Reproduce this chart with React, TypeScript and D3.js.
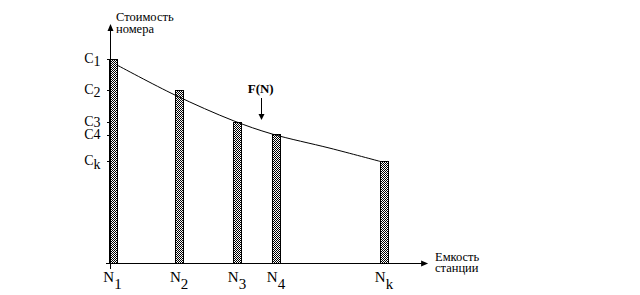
import React, { useEffect } from "react";
import * as d3 from "d3";

// Station capacities (arbitrary units) and per-number cost for each station
const stations = ["1", "2", "3", "4", "k"];
const capacities = [0, 22.2, 41.5, 54.5, 90.5];
const costs = [102, 86.5, 70.7, 64.4, 51];
// cost tick values (C1..Ck) on the vertical axis
const costTicks = [102, 86.5, 70.7, 64, 51];
// F(N) curve
const curveN = [1.5, 20.8, 40.2, 53.2, 72.5, 89.2];
const curveF = [99, 84, 71.2, 64.5, 57.4, 50.8];

const W = 640;
const H = 295;
const FONT = "'Liberation Serif', 'Times New Roman', serif";
const subDrop = [3, 3, 1, 0, 4];

export default function App() {
  useEffect(() => {
    document.body.style.margin = "0";
  }, []);

  const x = d3.scaleLinear().domain([0, 100]).range([112.5, 412.5]);
  const y = d3.scaleLinear().domain([0, 100]).range([263, 63]);

  const ax = Math.round(x(0) - 3) + 0.5; // y axis position
  const ay = Math.round(y(0)) + 0.5; // x axis position
  const yTop = y(119.5);
  const xRight = x(105.2);
  const barW = 8;

  const line = d3
    .line<number>()
    .x((_, i) => x(curveN[i]))
    .y((d) => y(d))
    .curve(d3.curveCatmullRom.alpha(0.5));

  const arrowX = x(49.4);

  return (
    <svg width={W} height={H} style={{ display: "block", background: "#fff" }}>
      <defs>
        <pattern id="dither" width={2} height={2} patternUnits="userSpaceOnUse">
          <rect width={2} height={2} fill="#fff" />
          <rect x={0} y={0} width={1} height={1} fill="#000" />
          <rect x={1} y={1} width={1} height={1} fill="#000" />
        </pattern>
      </defs>

      {/* bars */}
      {capacities.map((n, i) => {
        const bx = Math.round(x(n) - barW / 2) + 0.5;
        const by = Math.round(y(costs[i])) + 0.5;
        return (
          <rect
            key={i}
            x={bx}
            y={by}
            width={barW}
            height={ay - by}
            fill="url(#dither)"
            stroke="#000"
            strokeWidth={1}
            shapeRendering="crispEdges"
          />
        );
      })}

      {/* axes */}
      <line x1={ax} y1={yTop + 6} x2={ax} y2={ay + 5} stroke="#000" shapeRendering="crispEdges" />
      <path d={`M${ax},${yTop} L${ax - 3},${yTop + 7} L${ax + 3},${yTop + 7} Z`} fill="#000" />
      <line x1={ax - 5} y1={ay} x2={xRight - 6} y2={ay} stroke="#000" shapeRendering="crispEdges" />
      <path d={`M${xRight},${ay} L${xRight - 7},${ay - 3} L${xRight - 7},${ay + 3} Z`} fill="#000" />

      {/* y ticks */}
      {costTicks.map((c, i) => (
        <line
          key={i}
          x1={ax - 4}
          x2={ax}
          y1={Math.round(y(c)) + 0.5}
          y2={Math.round(y(c)) + 0.5}
          stroke="#000"
          shapeRendering="crispEdges"
        />
      ))}

      {/* curve */}
      <path d={line(curveF) || ""} fill="none" stroke="#000" strokeWidth={1} />

      {/* F(N) label and arrow */}
      <text x={arrowX} y={92.5} fontFamily={FONT} fontSize={13} fontWeight="bold" textAnchor="middle">
        F(N)
      </text>
      <line x1={Math.round(arrowX) + 0.5} y1={98} x2={Math.round(arrowX) + 0.5} y2={115} stroke="#000" />
      <path
        d={`M${Math.round(arrowX) + 0.5},120 L${Math.round(arrowX) - 2.5},114 L${Math.round(arrowX) + 3.5},114 Z`}
        fill="#000"
      />

      {/* C labels */}
      {stations.map((s, i) => (
        <text
          key={"c" + i}
          x={ax - 10}
          y={y(costTicks[i]) + 4}
          fontFamily={FONT}
          fontSize={14}
          textAnchor="end"
        >
          C
          <tspan dy={subDrop[i]}>{s}</tspan>
        </text>
      ))}

      {/* N labels */}
      {stations.map((s, i) => (
        <text
          key={"n" + i}
          x={x(capacities[i])}
          y={282}
          fontFamily={FONT}
          fontSize={15}
          textAnchor="middle"
        >
          N
          <tspan dy={7}>{s}</tspan>
        </text>
      ))}

      {/* axis titles */}
      <text x={116} y={20.5} fontFamily={FONT} fontSize={12.5}>
        Стоимость
      </text>
      <text x={116} y={33} fontFamily={FONT} fontSize={12.5}>
        номера
      </text>
      <text x={435} y={260.5} fontFamily={FONT} fontSize={12.5}>
        Емкость
      </text>
      <text x={435} y={272} fontFamily={FONT} fontSize={12.5}>
        станции
      </text>
    </svg>
  );
}
